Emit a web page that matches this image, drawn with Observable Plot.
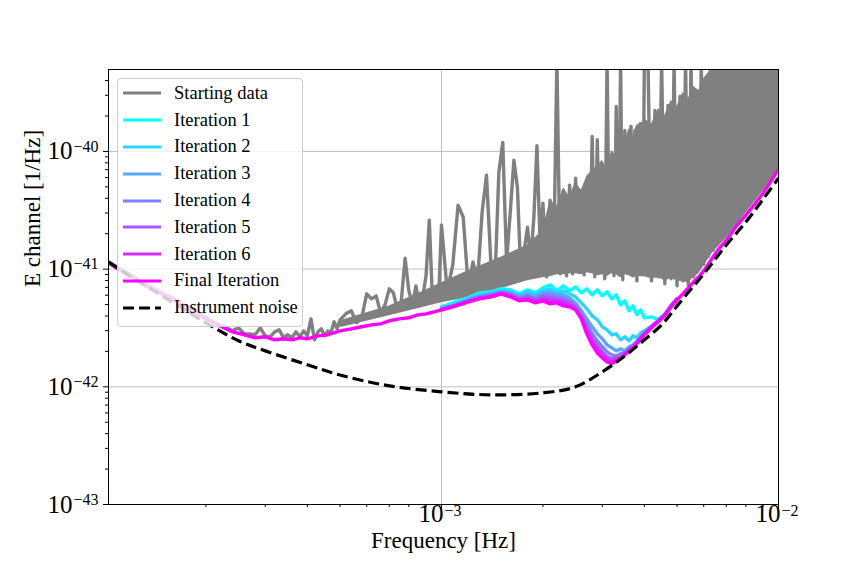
<!DOCTYPE html>
<html><head><meta charset="utf-8">
<script src="https://cdn.jsdelivr.net/npm/d3@7"></script>
<script src="https://cdn.jsdelivr.net/npm/@observablehq/plot@0.6"></script>
<style>
body{margin:0;background:#fff;}
#wrap{position:relative;width:864px;height:576px;font-family:"Liberation Serif","DejaVu Serif",serif;}
#legend{position:absolute;left:117px;top:78px;width:186px;height:249px;box-sizing:border-box;border:1px solid #cccccc;border-radius:4px;background:rgba(255,255,255,0.8);padding-top:1px;}
.row{height:26.8px;display:flex;align-items:center;font-size:18.5px;color:#000;white-space:nowrap;}
.row svg{margin-left:5px;margin-right:13px;flex:none;}
</style></head><body><div id="wrap"></div>
<script>
// ---------- data (frequency in Hz, PSD in 1/Hz) ----------
const startFreq = [
1.03e-4,1.1e-4,1.2e-4,1.3e-4,1.4e-4,1.5e-4,1.6e-4,1.7e-4,1.8e-4,1.9e-4,2.0e-4,
2.1e-4,2.2e-4,2.3e-4,2.4e-4,2.5e-4,2.6e-4,2.7e-4,2.8e-4,2.9e-4,3.0e-4,3.1e-4,3.2e-4,3.3e-4,3.4e-4,3.5e-4,3.6e-4,3.7e-4,3.8e-4,3.9e-4,4.0e-4,4.1e-4,4.2e-4,4.3e-4,4.4e-4,4.5e-4,4.6e-4,4.7e-4,4.8e-4,4.9e-4,5.0e-4,
5.2e-4,5.4e-4,5.6e-4,5.8e-4,6.0e-4,6.2e-4,6.4e-4,6.6e-4,6.8e-4,7.0e-4,7.2e-4,7.4e-4,7.6e-4,7.8e-4,8.0e-4,8.2e-4,8.4e-4,8.6e-4,8.8e-4,9.0e-4,9.2e-4,9.4e-4,9.6e-4,9.8e-4,1.0e-3,
1.04e-3,1.08e-3,1.12e-3,1.16e-3,1.20e-3,1.24e-3,1.28e-3,1.32e-3,1.36e-3,1.40e-3,1.44e-3,1.48e-3,1.52e-3,1.56e-3,1.60e-3,1.64e-3,1.68e-3,1.72e-3,1.76e-3,1.80e-3,1.84e-3,1.88e-3,1.92e-3,1.96e-3,2.00e-3,
2.05e-3,2.10e-3,2.15e-3,2.20e-3,2.25e-3,2.30e-3,2.35e-3,2.40e-3,2.45e-3,2.50e-3,2.55e-3,2.60e-3,2.65e-3,2.70e-3,2.75e-3,2.80e-3,2.85e-3,2.90e-3,2.95e-3,3.00e-3,
3.05e-3,3.10e-3,3.15e-3,3.20e-3,3.25e-3,3.30e-3,3.35e-3,3.40e-3,3.45e-3,3.50e-3,3.55e-3,3.60e-3,3.65e-3,3.70e-3,3.75e-3,3.80e-3,3.85e-3,3.90e-3,3.95e-3,4.00e-3,
4.1e-3,4.2e-3,4.3e-3,4.4e-3,4.5e-3,4.6e-3,4.7e-3,4.8e-3,4.9e-3,5.0e-3,5.1e-3,5.2e-3,5.3e-3,5.4e-3,5.5e-3,5.6e-3,5.7e-3,5.8e-3,5.9e-3,6.0e-3,
6.1e-3,6.2e-3,6.3e-3,6.4e-3,6.5e-3,6.6e-3,6.7e-3,6.8e-3,6.9e-3,7.0e-3,7.1e-3,7.2e-3,7.3e-3,7.4e-3,7.5e-3,7.6e-3,7.7e-3,7.8e-3,7.9e-3,8.0e-3,
8.1e-3,8.2e-3,8.3e-3,8.4e-3,8.5e-3,8.6e-3,8.7e-3,8.8e-3,8.9e-3,9.0e-3,9.1e-3,9.2e-3,9.3e-3,9.4e-3,9.5e-3,9.6e-3,9.7e-3,9.8e-3,9.9e-3,1.0e-2];
const startPSD = [
1.15e-41,1.02e-41,8.94e-42,7.65e-42,6.93e-42,6.17e-42,5.70e-42,5.07e-42,4.69e-42,4.17e-42,3.93e-42,
3.57e-42,3.36e-42,3.17e-42,2.99e-42,3.17e-42,2.82e-42,2.82e-42,2.77e-42,3.17e-42,2.71e-42,2.66e-42,2.93e-42,3.05e-42,2.61e-42,2.77e-42,2.61e-42,2.93e-42,2.66e-42,2.99e-42,2.71e-42,3.78e-42,2.51e-42,2.93e-42,3.11e-42,2.71e-42,2.99e-42,2.88e-42,3.57e-42,3.11e-42,3.71e-42,
4.17e-42,4.42e-42,3.50e-42,3.86e-42,6.17e-42,5.59e-42,5.93e-42,4.25e-42,4.97e-42,6.80e-42,6.29e-42,4.51e-42,5.38e-42,1.24e-41,6.54e-42,5.07e-42,7.21e-42,4.87e-42,5.82e-42,8.77e-42,2.61e-41,5.59e-42,6.54e-42,5.38e-42,2.37e-41,
6.54e-42,1.08e-41,3.50e-41,2.77e-41,7.21e-42,1.15e-41,7.95e-42,3.05e-41,6.29e-41,1.19e-41,7.50e-42,6.67e-41,1.19e-40,1.15e-41,3.05e-41,8.43e-41,4.97e-41,8.77e-42,1.45e-41,2.27e-41,1.19e-41,2.77e-41,1.12e-40,1.76e-41,3.64e-41,
8.60e-42,3.86e-41,9.30e-42,6e-40,9.12e-42,4.69e-41,8.77e-42,5.17e-41,9.12e-42,5.93e-41,1.02e-41,4.69e-41,8.94e-42,5.48e-41,9.67e-42,1.34e-40,8.60e-42,1.26e-40,9.30e-42,7.65e-41,
8.27e-42,6e-40,9.49e-42,8.43e-41,8.77e-42,2.41e-40,9.30e-42,6e-40,8.11e-42,1.51e-40,1.02e-41,1.24e-40,1.63e-40,8.77e-42,1.51e-40,7.95e-42,1.66e-40,1.73e-40,9.30e-42,6e-40,
6e-40,7.95e-42,2.23e-40,8.60e-42,6e-40,7.50e-42,2.46e-40,8.27e-42,6e-40,7.21e-42,2.93e-40,7.95e-42,6e-40,7.35e-42,6e-40,8.60e-42,3.30e-40,1.02e-41,6e-40,1.10e-41,
3.64e-40,1.29e-41,6e-40,1.45e-41,6e-40,1.63e-41,6e-40,1.83e-41,6e-40,2.06e-41,6e-40,2.32e-41,6e-40,2.51e-41,6e-40,2.77e-41,6e-40,3.05e-41,6e-40,3.36e-41,
6e-40,3.64e-41,6e-40,3.93e-41,6e-40,4.34e-41,6e-40,4.69e-41,6e-40,5.17e-41,6e-40,5.59e-41,6e-40,5.93e-41,6e-40,6.42e-41,6e-40,6.80e-41,6e-40,7.35e-41];

// dense part of the starting data: lower and upper envelope of the filled band
const bandFreq = [5.0e-4,7.0e-4,8.5e-4,1.0e-3,1.2e-3,1.5e-3,1.8e-3,2.0e-3,
2.1e-3,2.2e-3,2.3e-3,2.4e-3,2.5e-3,2.6e-3,2.7e-3,2.8e-3,2.9e-3,3.0e-3,3.1e-3,3.2e-3,3.3e-3,3.4e-3,3.5e-3,3.6e-3,3.7e-3,3.8e-3,3.9e-3,4.0e-3,
4.2e-3,4.4e-3,4.6e-3,4.8e-3,5.0e-3,5.2e-3,5.4e-3,5.6e-3,5.8e-3,6.0e-3,6.2e-3,6.4e-3,7.0e-3,8.0e-3,9.0e-3,1.0e-2];
const bandLow = [3.17e-42,4.01e-42,4.60e-42,5.17e-42,5.70e-42,6.80e-42,7.95e-42,8.43e-42,
8.60e-42,8.94e-42,8.94e-42,9.12e-42,9.12e-42,8.94e-42,9.30e-42,9.12e-42,8.77e-42,8.94e-42,8.60e-42,9.12e-42,8.94e-42,8.43e-42,8.94e-42,8.77e-42,8.43e-42,8.77e-42,8.60e-42,8.60e-42,
8.27e-42,8.43e-42,7.95e-42,8.27e-42,7.95e-42,7.80e-42,7.65e-42,8.43e-42,9.12e-42,1.06e-41,1.22e-41,1.39e-41,1.83e-41,2.99e-41,4.60e-41,6.93e-41];
const bandHigh = [3.64e-42,4.87e-42,6.17e-42,7.65e-42,9.67e-42,1.26e-41,1.60e-41,2.14e-41,
3.86e-41,3.43e-41,4.87e-41,4.17e-41,5.48e-41,4.69e-41,6.17e-41,6.93e-41,7.50e-41,8.43e-41,7.21e-41,1.02e-40,9.12e-41,1.37e-40,1.19e-40,1.57e-40,1.34e-40,1.70e-40,1.51e-40,1.91e-40,
1.70e-40,2.32e-40,2.02e-40,2.71e-40,2.41e-40,3.17e-40,2.82e-40,3.57e-40,3.30e-40,4.17e-40,4.69e-40,6e-40,6e-40,6e-40,6e-40,6e-40];

const fitFreq = [
1.03e-4,1.1e-4,1.2e-4,1.3e-4,1.4e-4,1.5e-4,1.6e-4,1.7e-4,1.8e-4,1.9e-4,2.0e-4,2.2e-4,2.4e-4,2.6e-4,2.8e-4,3.0e-4,3.2e-4,3.4e-4,3.6e-4,3.8e-4,4.0e-4,4.3e-4,4.6e-4,5.0e-4,5.4e-4,5.8e-4,6.2e-4,6.6e-4,7.0e-4,7.5e-4,8.0e-4,8.5e-4,9.0e-4,9.5e-4,
1.0e-3,1.1e-3,1.2e-3,1.3e-3,1.4e-3,1.5e-3,1.6e-3,1.7e-3,1.8e-3,1.9e-3,2.0e-3,2.1e-3,2.2e-3,2.3e-3,2.4e-3,2.5e-3,2.6e-3,2.7e-3,2.8e-3,2.9e-3,3.0e-3,3.1e-3,3.2e-3,3.3e-3,3.4e-3,3.5e-3,3.6e-3,3.7e-3,3.8e-3,3.9e-3,4.0e-3,
4.2e-3,4.4e-3,4.6e-3,4.8e-3,5.0e-3,5.2e-3,5.4e-3,5.6e-3,5.8e-3,6.0e-3,
6.3e-3,6.6e-3,7.0e-3,7.5e-3,8.0e-3,8.5e-3,9.0e-3,9.5e-3,1.0e-2];
const finalPSD = [
1.12e-41,1.00e-41,8.60e-42,7.50e-42,6.67e-42,6.05e-42,5.48e-42,4.97e-42,4.51e-42,4.09e-42,3.78e-42,3.30e-42,2.93e-42,2.77e-42,2.61e-42,2.66e-42,2.51e-42,2.56e-42,2.51e-42,2.61e-42,2.56e-42,2.71e-42,2.77e-42,2.99e-42,3.11e-42,3.24e-42,3.36e-42,3.43e-42,3.64e-42,3.78e-42,3.86e-42,4.09e-42,4.17e-42,4.34e-42,
4.51e-42,4.87e-42,5.28e-42,5.59e-42,5.82e-42,6.17e-42,5.82e-42,5.38e-42,5.48e-42,5.17e-42,5.38e-42,5.07e-42,5.17e-42,4.87e-42,4.78e-42,4.51e-42,3.78e-42,2.82e-42,2.27e-42,1.94e-42,1.76e-42,1.63e-42,1.57e-42,1.66e-42,1.73e-42,1.87e-42,2.02e-42,2.14e-42,2.32e-42,2.56e-42,2.77e-42,
3.17e-42,3.57e-42,4.01e-42,4.78e-42,5.48e-42,6.17e-42,6.93e-42,7.80e-42,8.60e-42,9.67e-42,
1.19e-41,1.45e-41,1.76e-41,2.32e-41,2.88e-41,3.57e-41,4.42e-41,5.59e-41,7.07e-41];

const iterFreq = [1.0e-3,1.1e-3,1.2e-3,1.3e-3,1.4e-3,1.5e-3,1.6e-3,1.7e-3,1.8e-3,1.9e-3,2.0e-3,2.1e-3,2.2e-3,2.3e-3,2.4e-3,2.5e-3,2.6e-3,2.7e-3,2.8e-3,2.9e-3,3.0e-3,3.1e-3,3.2e-3,3.3e-3,3.4e-3,3.5e-3,3.6e-3,3.7e-3,3.8e-3,3.9e-3,4.0e-3,4.2e-3,4.4e-3,4.6e-3,4.8e-3,5.0e-3];
const iter1PSD = [4.78e-42,5.28e-42,5.70e-42,6.29e-42,6.42e-42,6.80e-42,6.67e-42,6.17e-42,6.67e-42,6.29e-42,6.93e-42,7.35e-42,6.54e-42,7.21e-42,6.54e-42,7.07e-42,6.29e-42,6.80e-42,6.05e-42,6.67e-42,5.93e-42,6.42e-42,5.59e-42,6.05e-42,4.97e-42,5.38e-42,4.42e-42,4.87e-42,4.09e-42,4.51e-42,3.86e-42,3.93e-42,3.71e-42,4.17e-42,4.87e-42,5.59e-42];
const iter2PSD = [4.69e-42,5.07e-42,5.59e-42,6.05e-42,6.29e-42,6.54e-42,6.42e-42,5.93e-42,6.42e-42,6.05e-42,6.54e-42,6.80e-42,6.29e-42,6.54e-42,6.17e-42,5.82e-42,5.17e-42,4.60e-42,4.01e-42,3.71e-42,3.24e-42,3.05e-42,2.77e-42,2.82e-42,2.51e-42,2.66e-42,2.46e-42,2.71e-42,2.61e-42,2.88e-42,2.99e-42,3.30e-42,3.64e-42,4.09e-42,4.87e-42,5.59e-42];
const iter3PSD = [4.60e-42,4.97e-42,5.48e-42,5.93e-42,6.17e-42,6.42e-42,6.29e-42,5.82e-42,6.17e-42,5.82e-42,6.29e-42,6.42e-42,6.05e-42,6.05e-42,5.70e-42,5.17e-42,4.42e-42,3.78e-42,3.24e-42,2.82e-42,2.56e-42,2.27e-42,2.14e-42,2.02e-42,2.10e-42,2.02e-42,2.19e-42,2.27e-42,2.46e-42,2.66e-42,2.88e-42,3.24e-42,3.64e-42,4.09e-42,4.87e-42,5.59e-42];
const iter4PSD = [4.60e-42,4.97e-42,5.38e-42,5.82e-42,6.05e-42,6.29e-42,6.17e-42,5.70e-42,5.93e-42,5.59e-42,6.05e-42,6.05e-42,5.82e-42,5.70e-42,5.38e-42,4.87e-42,4.17e-42,3.43e-42,2.82e-42,2.46e-42,2.19e-42,1.98e-42,1.87e-42,1.83e-42,1.91e-42,1.94e-42,2.06e-42,2.19e-42,2.37e-42,2.61e-42,2.82e-42,3.24e-42,3.64e-42,4.09e-42,4.87e-42,5.59e-42];
const iter5PSD = [4.51e-42,4.87e-42,5.38e-42,5.70e-42,5.93e-42,6.29e-42,6.05e-42,5.59e-42,5.82e-42,5.48e-42,5.82e-42,5.70e-42,5.59e-42,5.38e-42,5.17e-42,4.69e-42,4.01e-42,3.17e-42,2.56e-42,2.23e-42,1.98e-42,1.80e-42,1.73e-42,1.76e-42,1.80e-42,1.91e-42,2.06e-42,2.19e-42,2.37e-42,2.61e-42,2.82e-42,3.24e-42,3.64e-42,4.09e-42,4.87e-42,5.59e-42];
const iter6PSD = [4.51e-42,4.87e-42,5.28e-42,5.70e-42,5.82e-42,6.17e-42,5.93e-42,5.48e-42,5.59e-42,5.28e-42,5.59e-42,5.38e-42,5.38e-42,5.17e-42,4.97e-42,4.60e-42,3.86e-42,2.99e-42,2.41e-42,2.06e-42,1.87e-42,1.70e-42,1.63e-42,1.70e-42,1.76e-42,1.91e-42,2.06e-42,2.19e-42,2.37e-42,2.61e-42,2.82e-42,3.24e-42,3.64e-42,4.09e-42,4.87e-42,5.59e-42];

const noiseFreq = [1.03e-4,1.2e-4,1.5e-4,2.0e-4,2.5e-4,3.0e-4,4.0e-4,5.0e-4,7.0e-4,1.0e-3,1.4e-3,2.0e-3,2.5e-3,3.0e-3,3.5e-3,4.0e-3,4.5e-3,5.0e-3,6.0e-3,7.0e-3,8.0e-3,9.0e-3,1.0e-2];
const noisePSD = [1.15e-41,8.60e-42,5.82e-42,3.50e-42,2.46e-42,2.02e-42,1.54e-42,1.26e-42,1.02e-42,9.07e-43,8.55e-43,8.89e-43,1.00e-42,1.34e-42,1.83e-42,2.51e-42,3.36e-42,4.87e-42,9.12e-42,1.60e-41,2.51e-41,3.93e-41,5.93e-41];

const seriesNames = ["Starting data","Iteration 1","Iteration 2","Iteration 3","Iteration 4","Iteration 5","Iteration 6","Final Iteration","Instrument noise"];
const seriesColors = ["#808080","#00ffff","#2ad4ff","#55aaff","#7f7fff","#aa55ff","#d42aff","#ff00ff","#000000"];

const xMajorTicks = [1e-3, 1e-2];
const xTickExponents = ["\u22123", "\u22122"];
const xMinorTicks = [2e-4,3e-4,4e-4,5e-4,6e-4,7e-4,8e-4,9e-4,2e-3,3e-3,4e-3,5e-3,6e-3,7e-3,8e-3,9e-3];
const yMajorTicks = [1e-43, 1e-42, 1e-41, 1e-40];
const yTickExponents = ["\u221243", "\u221242", "\u221241", "\u221240"];
const yMinorTicks = [2e-43,3e-43,4e-43,5e-43,6e-43,7e-43,8e-43,9e-43,2e-42,3e-42,4e-42,5e-42,6e-42,7e-42,8e-42,9e-42,2e-41,3e-41,4e-41,5e-41,6e-41,7e-41,8e-41,9e-41,2e-40,3e-40,4e-40];

// ---------- chart ----------
const FONT = '"Liberation Serif","DejaVu Serif",serif';
const LW = 3.4;
const rows = (fs, vs) => fs.map((f, i) => ({f, v: vs[i]}));
const ln = (fs, vs, color, extra = {}) => Plot.line(rows(fs, vs), {x: "f", y: "v", stroke: color, strokeWidth: LW, clip: true, ...extra});
const iterPSD = [iter1PSD, iter2PSD, iter3PSD, iter4PSD, iter5PSD, iter6PSD];
const bandRows = bandFreq.map((f, i) => ({f, lo: bandLow[i], hi: bandHigh[i]}));

const chart = Plot.plot({
  width: 864, height: 576,
  marginLeft: 108, marginRight: 86, marginTop: 69, marginBottom: 72,
  x: {type: "log", domain: [1.028e-4, 1e-2]},
  y: {type: "log", domain: [1e-43, 4.97e-40]},
  style: {fontFamily: FONT, background: "white", color: "black"},
  marks: [
    Plot.gridX({ticks: xMajorTicks, stroke: "#b0b0b0", strokeOpacity: 1, strokeWidth: 0.8}),
    Plot.gridY({ticks: yMajorTicks, stroke: "#b0b0b0", strokeOpacity: 1, strokeWidth: 0.8}),
    Plot.areaY(bandRows, {x: "f", y1: "lo", y2: "hi", fill: seriesColors[0], clip: true}),
    ln(startFreq, startPSD, seriesColors[0]),
    ...iterPSD.map((p, k) => ln(iterFreq, p, seriesColors[k + 1])),
    ln(fitFreq, finalPSD, seriesColors[7]),
    ln(noiseFreq, noisePSD, seriesColors[8], {strokeWidth: 3.2, strokeDasharray: "11,5", curve: "catmull-rom", strokeLinecap: "butt"}),
    Plot.frame({stroke: "black", strokeWidth: 1}),
    Plot.axisX({ticks: xMajorTicks, tickSize: 5, tickFormat: () => "", label: null}),
    Plot.axisX({ticks: xMinorTicks, tickSize: 3, tickFormat: () => "", label: null}),
    Plot.axisY({ticks: yMajorTicks, tickSize: 5, tickFormat: () => "", label: null}),
    Plot.axisY({ticks: yMinorTicks, tickSize: 3, tickFormat: () => "", label: null}),
    Plot.text(xMajorTicks, {x: d => d, frameAnchor: "bottom", dy: 17, dx: 2, textAnchor: "end", text: () => "10", fontSize: 25, fontFamily: FONT, fill: "black"}),
    Plot.text(xMajorTicks, {x: d => d, frameAnchor: "bottom", dy: 11, dx: 3, textAnchor: "start", text: (d, i) => xTickExponents[i], fontSize: 16, fontFamily: FONT, fill: "black"}),
    Plot.text(yMajorTicks, {y: d => d, frameAnchor: "left", dx: -36, textAnchor: "end", text: () => "10", fontSize: 25, fontFamily: FONT, fill: "black"}),
    Plot.text(yMajorTicks, {y: d => d, frameAnchor: "left", dx: -35, dy: -5, textAnchor: "start", text: (d, i) => yTickExponents[i], fontSize: 16, fontFamily: FONT, fill: "black"}),
    Plot.text(["Frequency [Hz]"], {frameAnchor: "bottom", dy: 43, text: d => d, fontSize: 23, fontFamily: FONT, fill: "black"}),
    Plot.text(["E channel [1/Hz]"], {frameAnchor: "left", dx: -76, rotate: -90, text: d => d, fontSize: 23, fontFamily: FONT, fill: "black"})
  ]
});

const wrap = document.getElementById("wrap");
wrap.appendChild(chart);

const legend = document.createElement("div");
legend.id = "legend";
seriesNames.forEach((name, i) => {
  const row = document.createElement("div");
  row.className = "row";
  const dash = i === seriesNames.length - 1 ? ' stroke-dasharray="11,5"' : '';
  row.innerHTML = `<svg width="38" height="6"><line x1="0" y1="3" x2="38" y2="3" stroke="${seriesColors[i]}" stroke-width="3"${dash}/></svg><span>${name}</span>`;
  legend.appendChild(row);
});
wrap.appendChild(legend);
</script>
</body></html>
